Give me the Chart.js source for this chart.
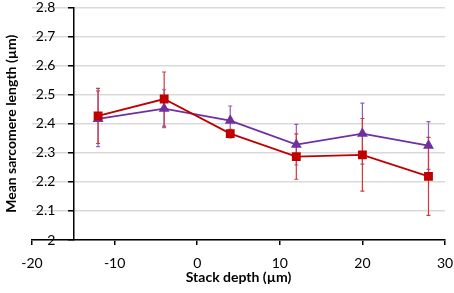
<!DOCTYPE html>
<html>
<head>
<meta charset="utf-8">
<script src="https://cdn.jsdelivr.net/npm/chart.js@4/dist/chart.umd.min.js"></script>
<style>
  body { margin: 0; background: #fff; }
  #wrap { width: 454px; height: 293px; }
</style>
</head>
<body>
<div id="wrap"><canvas id="myChart"></canvas></div>
<script>
// stack depth (um) for each measurement
const depth = [-12, -4, 4, 12, 20, 28];

// red series (squares)
const redMean = [2.427, 2.485, 2.366, 2.287, 2.293, 2.219];
const redErr = [0.095, 0.093, 0.015, 0.078, 0.125, 0.134];

// purple series (triangles)
const purpleMean = [2.417, 2.452, 2.411, 2.328, 2.366, 2.325];
const purpleErr = [0.096, 0.065, 0.05, 0.07, 0.105, 0.082];

// tick labels
const xTicks = [-20, -10, 0, 10, 20, 30];
const yTicks = [2, 2.1, 2.2, 2.3, 2.4, 2.5, 2.6, 2.7, 2.8];

const FONT = 'Lato, "Liberation Sans", sans-serif';

function points(xs, ys) {
    return xs.map((v, i) => ({ x: v, y: ys[i] }));
}

// vertical error bars with small caps, drawn under the markers
const errorBars = {
    id: 'errorBars',
    beforeDatasetsDraw(chart) {
        const ctx = chart.ctx;
        const sx = chart.scales.x;
        const sy = chart.scales.y;
        const sets = [
            [purpleMean, purpleErr, '#8f5fbf'],
            [redMean, redErr, '#d23a3a']
        ];
        ctx.save();
        ctx.lineWidth = 1.2;
        sets.forEach(function (s) {
            ctx.strokeStyle = s[2];
            for (let i = 0; i < depth.length; i++) {
                let px = sx.getPixelForValue(depth[i]);
                let top = sy.getPixelForValue(s[0][i] + s[1][i]);
                let bot = sy.getPixelForValue(s[0][i] - s[1][i]);
                ctx.beginPath();
                ctx.moveTo(px, top); ctx.lineTo(px, bot);
                ctx.moveTo(px - 2, top); ctx.lineTo(px + 2, top);
                ctx.moveTo(px - 2, bot); ctx.lineTo(px + 2, bot);
                ctx.stroke();
            }
        });
        ctx.restore();
    }
};

const ctx = document.getElementById('myChart').getContext('2d');
const chart = new Chart(ctx, {
    type: 'scatter',
    data: {
        datasets: [{
            data: points(depth, redMean),
            showLine: true,
            borderColor: '#c00000',
            backgroundColor: '#c00000',
            borderWidth: 1.8,
            pointStyle: 'rect',
            pointRadius: 5,
            order: 0
        }, {
            data: points(depth, purpleMean),
            showLine: true,
            borderColor: '#7030a0',
            backgroundColor: '#7030a0',
            borderWidth: 1.8,
            pointStyle: 'triangle',
            pointRadius: 4.5,
            order: 1
        }]
    },
    options: {
        responsive: true,
        maintainAspectRatio: false,
        animation: false,
        layout: { padding: { left: 3, right: 9, top: 7.5, bottom: 0 } },
        plugins: { legend: { display: false }, tooltip: { enabled: false } },
        scales: {
            x: {
                type: 'linear',
                min: -20,
                max: 30,
                afterBuildTicks: s => { s.ticks = xTicks.map(v => ({ value: v })); },
                // fixed height so the plot bottom lands where the original has it
                afterFit: s => { s.height = 53; s.paddingLeft = 0; s.paddingRight = 0; },
                ticks: { color: '#000', font: { family: FONT, size: 14 }, padding: 10 },
                grid: { drawOnChartArea: false, drawTicks: true, tickLength: 5, color: '#000', lineWidth: 1.5 },
                border: { color: '#000', width: 1.5 },
                title: {
                    display: true,
                    text: 'Stack depth (µm)',
                    color: '#000',
                    font: { family: FONT, size: 14, weight: 'bold' },
                    padding: { top: 0, bottom: 7 }
                }
            },
            y: {
                type: 'linear',
                position: { x: -15 },
                min: 2,
                max: 2.8,
                afterBuildTicks: s => { s.ticks = yTicks.map(v => ({ value: v })); },
                afterFit: s => { s.width = 0; s.paddingTop = 0; s.paddingBottom = 0; },
                ticks: {
                    color: '#000',
                    font: { family: FONT, size: 14 },
                    // trailing spaces keep the labels clear of the axis line
                    callback: v => String(+v.toFixed(1)) + '     '
                },
                grid: { color: '#d9d9d9', lineWidth: 1.5, drawTicks: true, tickLength: 5, tickColor: '#000', tickWidth: 1.5 },
                border: { color: '#000', width: 1.5 }
            },
            yt: {
                type: 'linear',
                position: 'left',
                afterFit: s => { s.width = 29; s.paddingTop = 0; s.paddingBottom = 0; },
                ticks: { display: false },
                grid: { display: false },
                border: { display: false },
                title: {
                    display: true,
                    text: 'Mean sarcomere length (µm)',
                    color: '#000',
                    font: { family: FONT, size: 14, weight: 'bold' },
                    padding: 0
                }
            }
        }
    },
    plugins: [errorBars]
});
</script>
</body>
</html>
